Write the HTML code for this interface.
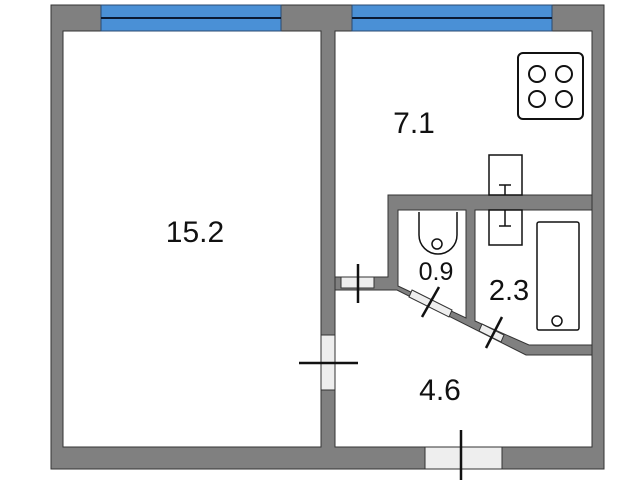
<!DOCTYPE html>
<html><head><style>
html,body{margin:0;padding:0;background:#fff;}
svg{display:block}
text{font-family:"Liberation Sans",sans-serif;fill:#111}
</style></head><body>
<svg width="640" height="480" viewBox="0 0 640 480">
<path d="M51,5 H604 V469 H51 Z" fill="#808080" stroke="#333"/>
<rect x="63" y="31" width="258" height="416" fill="#fff" stroke="#333"/>
<rect x="335" y="31" width="257" height="416" fill="#fff" stroke="#333"/>
<!-- windows top -->
<rect x="101" y="5" width="180" height="26" fill="#4a90d6" stroke="#2a4a70"/>
<line x1="101" y1="18" x2="281" y2="18" stroke="#0a1a33" stroke-width="2"/>
<rect x="352" y="5" width="200" height="26" fill="#4a90d6" stroke="#2a4a70"/>
<line x1="352" y1="18" x2="552" y2="18" stroke="#0a1a33" stroke-width="2"/>
<!-- stove -->
<rect x="518" y="53" width="65" height="66" rx="5" fill="#fff" stroke="#111" stroke-width="2"/>
<g fill="none" stroke="#111" stroke-width="2">
<circle cx="537" cy="74" r="8"/><circle cx="564" cy="74" r="8"/>
<circle cx="537" cy="99" r="8"/><circle cx="564" cy="99" r="8"/>
</g>
<!-- bathroom walls -->
<path d="M388,195 H592 V355 H526 L397,290 H335 V277 H388 Z" fill="#808080" stroke="#333"/>
<path d="M398,210 H466 V318 L398,286 Z" fill="#fff" stroke="#333"/>
<path d="M475,210 H592 V345 H529 L475,321 Z" fill="#fff" stroke="#333"/>
<rect x="489" y="210" width="33" height="35" fill="#fff" stroke="#111" stroke-width="1.5"/>
<rect x="489" y="155" width="33" height="40" fill="#fff" stroke="#111" stroke-width="1.5"/>
<g stroke="#111" stroke-width="1.5">
<line x1="505" y1="185" x2="505" y2="195"/><line x1="499" y1="185" x2="511" y2="185"/>
<line x1="505" y1="210" x2="505" y2="226"/><line x1="499" y1="226" x2="511" y2="226"/>
</g>
<!-- toilet -->
<path d="M419,212 V235 A19,19 0 0 0 457,235 V212" fill="none" stroke="#111" stroke-width="1.5"/>
<circle cx="437" cy="244" r="5" fill="none" stroke="#111" stroke-width="1.5"/>
<!-- bath -->
<rect x="537" y="222" width="42" height="108" rx="2" fill="#fff" stroke="#111" stroke-width="1.5"/>
<circle cx="557" cy="321" r="5" fill="none" stroke="#111" stroke-width="1.5"/>
<!-- door windows -->
<rect x="341" y="277" width="33" height="11" fill="#eee" stroke="#333"/>
<polygon points="412,290 452,310 449,317 409,297" fill="#eee" stroke="#333"/>
<polygon points="482,324 504,335 501,342 479,331" fill="#eee" stroke="#333"/>
<rect x="321" y="335" width="14" height="55" fill="#eee" stroke="#333"/>
<rect x="425" y="447" width="77" height="22" fill="#eee" stroke="#333"/>
<g stroke="#111" stroke-width="2.5">
<line x1="358" y1="264" x2="358" y2="303"/>
<line x1="299" y1="363" x2="358" y2="363"/>
<line x1="461" y1="430" x2="461" y2="480"/>
<line x1="439" y1="287" x2="422" y2="317"/>
<line x1="502" y1="317" x2="486" y2="348"/>
</g>
<!-- labels -->
<text x="195" y="242" font-size="30" text-anchor="middle">15.2</text>
<text x="414" y="133" font-size="30" text-anchor="middle">7.1</text>
<text x="436" y="280" font-size="25" text-anchor="middle">0.9</text>
<text x="509" y="300" font-size="29" text-anchor="middle">2.3</text>
<text x="440" y="400" font-size="30" text-anchor="middle">4.6</text>
</svg>
</body></html>
